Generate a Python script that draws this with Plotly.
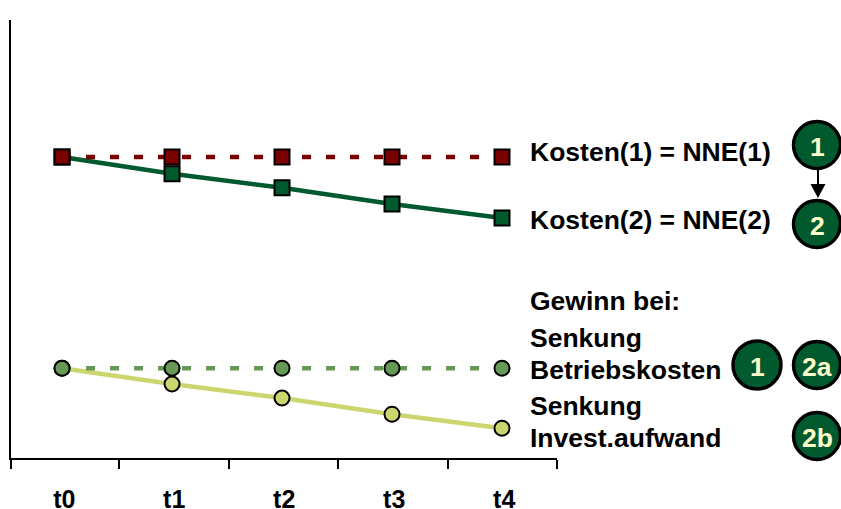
import plotly.graph_objects as go

W, H = 841, 509
L, R, T, B = 11, 557, 20, 458

categories = ["t0", "t1", "t2", "t3", "t4"]
steps = [0, 1, 2, 3, 4]
kosten_1 = [68.7, 68.7, 68.7, 68.7, 68.7]
kosten_2 = [68.7, 64.9, 61.7, 58.0, 54.8]
gewinn_1 = [20.5, 20.5, 20.5, 20.5, 20.5]
gewinn_2 = [20.5, 16.9, 13.7, 10.0, 6.8]
tick_edges = [-0.464, 0.518, 1.514, 2.509, 3.505, 4.5]
label_pos = [0.02, 1.02, 2.02, 3.02, 4.02]

RED = "#7B0000"
GREEN = "#005A2E"
MID = "#669955"
LIGHT = "#CCD66E"
CREAM = "#FFFFCC"
FONT = "Liberation Sans"

fig = go.Figure()


def series(y, color, symbol, size, dash="solid"):
    fig.add_trace(go.Scatter(
        x=steps, y=y, mode="lines+markers",
        line=dict(color=color, width=4.5, dash=dash),
        marker=dict(symbol=symbol, size=size, color=color, line=dict(color="black", width=2)),
        showlegend=False, hoverinfo="skip", cliponaxis=False,
    ))


series(kosten_2, GREEN, "square", 15)
series(kosten_1, RED, "square", 15, "9px,15px")
series(gewinn_2, LIGHT, "circle", 15)
series(gewinn_1, MID, "circle", 15, "9px,15px")


def px(x):
    return (x - L) / (R - L)


def py(y):
    return (B - y) / (B - T)


def text(x, y, s, color="black", anchor="left", size=26.5):
    fig.add_annotation(
        x=px(x), y=py(y), xref="paper", yref="paper", text=s, showarrow=False,
        xanchor=anchor, yanchor="middle", align=anchor, borderpad=0, borderwidth=0,
        font=dict(family=FONT, size=size, color=color),
    )


def bold(s):
    return "<b>" + s + "</b>"


for x, y, s in [
    (530, 152, "Kosten(1) = NNE(1)"),
    (530, 220, "Kosten(2) = NNE(2)"),
    (530, 301, "Gewinn bei:"),
    (530, 338, "Senkung"),
    (530, 370, "Betriebskosten"),
    (530, 406, "Senkung"),
    (530, 438, "Invest.aufwand"),
]:
    text(x, y, bold(s))

shapes = []
for cx, cy, r, s in [
    (817, 145, 25, "1"),
    (817, 224, 25, "2"),
    (757, 365, 25.5, "1"),
    (817, 365, 25, "2a"),
    (817, 436, 25, "2b"),
]:
    shapes.append(dict(
        type="circle", xref="paper", yref="paper",
        x0=px(cx - r + 1.5), x1=px(cx + r - 1.5), y0=py(cy + r - 1.5), y1=py(cy - r + 1.5),
        fillcolor=GREEN, line=dict(color="black", width=3.5),
    ))
    text(cx, cy + 2, bold(s), CREAM, "center", 26.5)

shapes.append(dict(type="line", xref="paper", yref="paper",
                   x0=px(818), x1=px(818), y0=py(170), y1=py(186),
                   line=dict(color="black", width=2)))
shapes.append(dict(type="path", xref="paper", yref="paper",
                   path=f"M {px(810.5)} {py(184)} L {px(825.5)} {py(184)} L {px(818)} {py(198)} Z",
                   fillcolor="black", line=dict(width=0)))

fig.update_layout(
    width=W, height=H, autosize=False,
    margin=dict(l=L, r=W - R, t=T, b=H - B, pad=0, autoexpand=False),
    paper_bgcolor="white", plot_bgcolor="white",
    shapes=shapes,
    xaxis=dict(
        range=[-0.464, 4.5], tickmode="array", tickvals=label_pos, ticktext=[bold(c) for c in categories],
        ticks="", showgrid=False, zeroline=False, showline=True, linecolor="black", linewidth=2,
        tickfont=dict(family=FONT, size=25, color="black"), ticklabelstandoff=18, automargin=False,
        minor=dict(tickmode="array", tickvals=tick_edges, ticks="outside", ticklen=9, tickwidth=2,
                   tickcolor="black", showgrid=False),
    ),
    yaxis=dict(range=[0, 100], showticklabels=False, ticks="", showgrid=False, zeroline=False,
               showline=True, linecolor="black", linewidth=2, automargin=False),
)

fig.write_html("out.html", config={"displayModeBar": False}, post_script="document.body.style.margin='0';")
